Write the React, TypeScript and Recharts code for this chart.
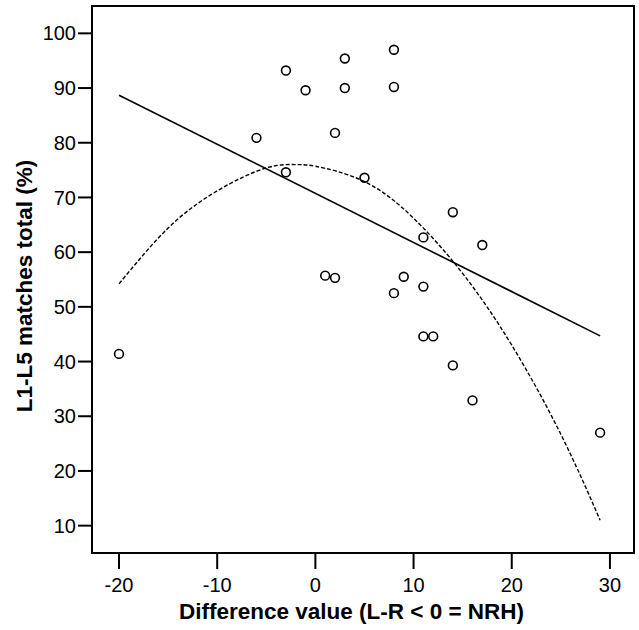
import { ComposedChart, Scatter, Line, XAxis, YAxis, ReferenceArea } from "recharts";

// difference value (L-R) per subject and its L1-L5 match total
const diffX = [-20, -6, -3, -3, -1, 3, 3, 8, 8, 2, 5, 14, 11, 17, 1, 2, 9, 11, 8, 11, 12, 14, 16, 29];
const matchY = [41.4, 80.9, 93.2, 74.6, 89.6, 95.4, 90.0, 97.0, 90.2, 81.8, 73.6, 67.3, 62.7, 61.3, 55.7, 55.3, 55.5, 53.7, 52.5, 44.6, 44.6, 39.3, 32.9, 27.0];

// linear fit, read at its two ends
const linX = [-20, 29];
const linY = [88.7, 44.7];

// quadratic fit (dashed)
const curveX = [-20, -15, -10, -5, -2, 0, 5, 10, 15, 20, 25, 29];
const curveY = [54.2, 64.4, 71.2, 75.4, 76.0, 75.7, 72.9, 66.2, 56.1, 43.0, 26.7, 11.0];

const xTicks = [-20, -10, 0, 10, 20, 30];
const yTicks = [10, 20, 30, 40, 50, 60, 70, 80, 90, 100];
const xDomain = [-22.75, 32.45];
const yDomain = [5, 105];

const points = diffX.map((x, i) => ({ x, y: matchY[i] }));
const linData = linX.map((x, i) => ({ x, y: linY[i] }));
const curveData = curveX.map((x, i) => ({ x, y: curveY[i] }));

const font = "'Liberation Sans', Arial, sans-serif";
const tickStyle = { fill: "#000", fontSize: 20, fontFamily: font };

const OpenCircle = (props: any) => (
  <circle cx={props.cx} cy={props.cy} r={4.4} fill="none" stroke="#000" strokeWidth={1.6} />
);

export default function App() {
  return (
    <div style={{ position: "absolute", left: 0, top: 0, width: 639, height: 630, background: "#fff" }}>
      <ComposedChart width={639} height={630} margin={{ top: 6, right: 5, left: 0, bottom: 0 }}>
        <XAxis
          type="number"
          dataKey="x"
          domain={xDomain}
          ticks={xTicks}
          allowDataOverflow
          height={77}
          tickSize={16}
          tickMargin={9}
          axisLine={{ stroke: "#000", strokeWidth: 2 }}
          tickLine={{ stroke: "#000", strokeWidth: 2 }}
          tick={tickStyle}
        />
        <YAxis
          type="number"
          dataKey="y"
          domain={yDomain}
          ticks={yTicks}
          allowDataOverflow
          width={92}
          tickSize={14}
          tickMargin={2}
          axisLine={{ stroke: "#000", strokeWidth: 2 }}
          tickLine={{ stroke: "#000", strokeWidth: 2 }}
          tick={tickStyle}
        />
        <ReferenceArea
          x1={xDomain[0]}
          x2={xDomain[1]}
          y1={yDomain[0]}
          y2={yDomain[1]}
          fill="#fff"
          fillOpacity={0}
          stroke="#000"
          strokeWidth={2}
          ifOverflow="visible"
        />
        <Line
          data={linData}
          dataKey="y"
          type="linear"
          stroke="#000"
          strokeWidth={1.6}
          dot={false}
          activeDot={false}
          isAnimationActive={false}
        />
        <Line
          data={curveData}
          dataKey="y"
          type="natural"
          stroke="#000"
          strokeWidth={1.4}
          strokeDasharray="4 2"
          dot={false}
          activeDot={false}
          isAnimationActive={false}
        />
        <Scatter data={points} dataKey="y" shape={OpenCircle} isAnimationActive={false} />
        <text x={351.5} y={619} textAnchor="middle" fontFamily={font} fontWeight="bold" fontSize={22.5} fill="#000">
          Difference value (L-R &lt; 0 = NRH)
        </text>
        <text
          x={31.7}
          y={286}
          textAnchor="middle"
          transform="rotate(-90 31.7 286)"
          fontFamily={font}
          fontWeight="bold"
          fontSize={22.5}
          fill="#000"
        >
          L1-L5 matches total (%)
        </text>
      </ComposedChart>
    </div>
  );
}
